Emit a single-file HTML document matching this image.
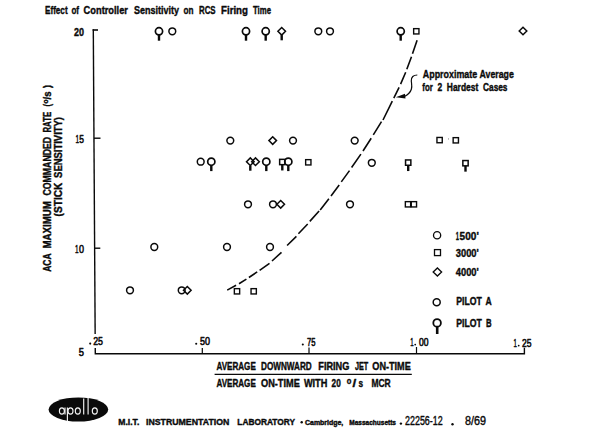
<!DOCTYPE html>
<html><head><meta charset="utf-8"><title>Effect of Controller Sensitivity on RCS Firing Time</title>
<style>
html,body{margin:0;padding:0;background:#fff;}
body{width:600px;height:436px;overflow:hidden;font-family:"Liberation Sans",sans-serif;}
svg{display:block;}
svg text{font-family:"Liberation Sans",sans-serif;fill:#0a0a0a;stroke:#0a0a0a;stroke-width:.4px;stroke-linejoin:round;}
</style></head><body>
<svg width="600" height="436" viewBox="0 0 600 436">
<rect x="0" y="0" width="600" height="436" fill="#fff"/>
<!-- axes -->
<g stroke="#0a0a0a" stroke-width="1.4" fill="none">
<path d="M98 30H92.6" stroke-width="1.6"/>
<path d="M93.3 29.3L95.15 334"/>
<path d="M95.25 348L95.3 353.8H524.4V347.8"/>
<path d="M94 138.2H100.5"/>
<path d="M94.7 248.2H100.3"/>
<path d="M202.3 348V353.8" stroke-width="1.2"/>
<path d="M309 347.5V353.8" stroke-width="1.2"/>
<path d="M416.5 347V353.8" stroke-width="1.2"/>
<path d="M214.6 374.3H411.8" stroke-width="1.3"/>
</g>
<!-- dashed curve -->
<path d="M227.2 290.1L236.1 285.3M239 283.7L246.4 279.1M248.9 277.5L257.2 271.9M259.6 270.3L269.5 263.3M272 261L281.5 252.3M287.1 245.5L296.4 236.4M298.4 233.7L307.7 224M309.8 221.4L319.1 211M320.2 210L328.9 198.8M331 196L339.2 185M341.3 181.9L349.5 170.6M351.6 167.5L360.9 154.1M363 151L371.2 138.2M373.3 134.9L381.5 121.7M383 120L392.3 101.2M393.8 98.1L399.1 87.4M400.6 84.1L405.7 72.3M406.8 69.2L411.5 56.8M412.5 53.7L417.1 40.3" stroke="#0a0a0a" stroke-width="1.6" fill="none" />
<!-- annotation arrow -->
<path d="M417.3 75C413.5 75,411 77,411.3 81S414 91,405 96.3" stroke="#0a0a0a" stroke-width="1.2" fill="none"/>
<path d="M395.8 97.3L405 93.8L405.5 98.6Z" fill="#0a0a0a"/>
<!-- markers -->
<g stroke="#0a0a0a" stroke-width="1.5" fill="none">
<circle cx="172.3" cy="31.3" r="3.4"/>
<circle cx="318.3" cy="31.3" r="3.4"/>
<circle cx="330" cy="31.3" r="3.4"/>
<circle cx="230.3" cy="140.6" r="3.4"/>
<circle cx="293" cy="140.6" r="3.4"/>
<circle cx="354.7" cy="140.6" r="3.4"/>
<circle cx="200.7" cy="161.7" r="3.4"/>
<circle cx="371.8" cy="162.8" r="3.4"/>
<circle cx="248" cy="204.3" r="3.4"/>
<circle cx="273" cy="204.3" r="3.4"/>
<circle cx="350" cy="204.3" r="3.4"/>
<circle cx="154.3" cy="247" r="3.4"/>
<circle cx="227" cy="247" r="3.4"/>
<circle cx="270" cy="247" r="3.4"/>
<circle cx="130" cy="290.3" r="3.4"/>
<circle cx="181.7" cy="290.3" r="3.4"/>
<circle cx="159" cy="31.3" r="3.6" stroke-width="1.7"/><line x1="159" y1="34.9" x2="159" y2="40.699999999999996" stroke-width="2.4"/>
<circle cx="246" cy="31.3" r="3.6" stroke-width="1.7"/><line x1="246" y1="34.9" x2="246" y2="40.699999999999996" stroke-width="2.4"/>
<circle cx="265.7" cy="31.3" r="3.6" stroke-width="1.7"/><line x1="265.7" y1="34.9" x2="265.7" y2="40.699999999999996" stroke-width="2.4"/>
<circle cx="400.7" cy="31.3" r="3.6" stroke-width="1.7"/><line x1="400.7" y1="34.9" x2="400.7" y2="40.699999999999996" stroke-width="2.4"/>
<circle cx="211.3" cy="161.7" r="3.6" stroke-width="1.7"/><line x1="211.3" y1="165.29999999999998" x2="211.3" y2="171.1" stroke-width="2.4"/>
<circle cx="266.3" cy="161.7" r="3.6" stroke-width="1.7"/><line x1="266.3" y1="165.29999999999998" x2="266.3" y2="171.1" stroke-width="2.4"/>
<circle cx="288.3" cy="161.7" r="3.6" stroke-width="1.7"/><line x1="288.3" y1="165.29999999999998" x2="288.3" y2="171.1" stroke-width="2.4"/>
<rect x="413.65000000000003" y="28.650000000000002" width="5.3" height="5.3" stroke-width="1.4"/>
<rect x="436.95000000000005" y="137.45" width="5.3" height="5.3" stroke-width="1.4"/>
<rect x="453.15000000000003" y="137.65" width="5.3" height="5.3" stroke-width="1.4"/>
<rect x="305.65000000000003" y="159.65" width="5.3" height="5.3" stroke-width="1.4"/>
<rect x="405.35" y="201.65" width="5.3" height="5.3" stroke-width="1.4"/>
<rect x="411.25" y="201.65" width="5.3" height="5.3" stroke-width="1.4"/>
<rect x="234.35" y="288.65000000000003" width="5.3" height="5.3" stroke-width="1.4"/>
<rect x="251.04999999999998" y="288.65000000000003" width="5.3" height="5.3" stroke-width="1.4"/>
<rect x="279.65000000000003" y="159.35" width="5.3" height="5.3"/><line x1="282.3" y1="164.65" x2="282.3" y2="170.45000000000002" stroke-width="2.4"/>
<rect x="405.55" y="159.95" width="5.3" height="5.3"/><line x1="408.2" y1="165.25" x2="408.2" y2="171.05" stroke-width="2.4"/>
<rect x="462.85" y="160.54999999999998" width="5.3" height="5.3"/><line x1="465.5" y1="165.85" x2="465.5" y2="171.65" stroke-width="2.4"/>
<path d="M519.2 31L523 27.2L526.8 31L523 34.8Z"/>
<path d="M268.9 140.6L272.7 136.79999999999998L276.5 140.6L272.7 144.4Z"/>
<path d="M251.7 161.7L255.5 157.89999999999998L259.3 161.7L255.5 165.5Z"/>
<path d="M276.9 204.3L280.7 200.5L284.5 204.3L280.7 208.10000000000002Z"/>
<path d="M183.5 290.3L187.3 286.5L191.10000000000002 290.3L187.3 294.1Z"/>
<path d="M277.9 31.3L281.7 27.5L285.5 31.3L281.7 35.1Z"/><line x1="281.7" y1="35.1" x2="281.7" y2="40.300000000000004" stroke-width="2.4"/>
<path d="M246.5 161.7L250.3 157.89999999999998L254.10000000000002 161.7L250.3 165.5Z"/><line x1="250.3" y1="165.5" x2="250.3" y2="170.7" stroke-width="2.4"/>
<circle cx="437.1" cy="235.2" r="3.6" stroke-width="1.3"/>
<rect x="434.5" y="249.6" width="6" height="6" stroke-width="1.3"/>
<path d="M433.2 272L437.4 267.9L441.6 272L437.4 276.1Z" stroke-width="1.35"/>
<circle cx="436.7" cy="302.3" r="3.5" stroke-width="1.5"/>
<circle cx="437.1" cy="322.9" r="3.8" stroke-width="1.8"/><line x1="437.2" y1="326.7" x2="437.2" y2="334" stroke-width="2.6"/>
</g>
<circle cx="448.5" cy="138.9" r="0.55" fill="#888"/>
<!-- text -->
<text x="45.00" y="13.60" textLength="22.60" lengthAdjust="spacingAndGlyphs" font-size="11.5" font-weight="bold" >Effect</text><text x="71.40" y="13.60" textLength="7.60" lengthAdjust="spacingAndGlyphs" font-size="11.5" font-weight="bold" >of</text><text x="83.60" y="13.60" textLength="44.40" lengthAdjust="spacingAndGlyphs" font-size="11.5" font-weight="bold" >Controller</text><text x="134.00" y="13.60" textLength="45.00" lengthAdjust="spacingAndGlyphs" font-size="11.5" font-weight="bold" >Sensitivity</text><text x="183.60" y="13.60" textLength="10.00" lengthAdjust="spacingAndGlyphs" font-size="11.5" font-weight="bold" >on</text><text x="199.00" y="13.60" textLength="16.60" lengthAdjust="spacingAndGlyphs" font-size="11.5" font-weight="bold" >RCS</text><text x="221.00" y="13.60" textLength="27.00" lengthAdjust="spacingAndGlyphs" font-size="11.5" font-weight="bold" >Firing</text><text x="253.00" y="13.60" textLength="18.00" lengthAdjust="spacingAndGlyphs" font-size="11.5" font-weight="bold" >Time</text>
<text x="74.00" y="35.50" textLength="10.00" lengthAdjust="spacingAndGlyphs" font-size="11.8" font-weight="bold" >20</text>
<text x="75.50" y="143.00" textLength="3.60" lengthAdjust="spacingAndGlyphs" font-size="11.8" font-weight="normal" font-family="Liberation Serif" style="stroke-width:.5px">1</text><text x="79.30" y="143.00" textLength="4.70" lengthAdjust="spacingAndGlyphs" font-size="11.8" font-weight="normal" style="stroke-width:.6px">5</text>
<text x="75.00" y="252.50" textLength="3.60" lengthAdjust="spacingAndGlyphs" font-size="11.8" font-weight="normal" font-family="Liberation Serif" style="stroke-width:.5px">1</text><text x="79.00" y="252.50" textLength="5.00" lengthAdjust="spacingAndGlyphs" font-size="11.8" font-weight="normal" style="stroke-width:.6px">0</text>
<text x="78.80" y="356.40" textLength="5.20" lengthAdjust="spacingAndGlyphs" font-size="11.2" font-weight="normal" style="stroke-width:.6px">5</text>
<text x="93.20" y="344.60" textLength="9.80" lengthAdjust="spacingAndGlyphs" font-size="11.8" font-weight="normal" style="stroke-width:.6px">25</text>
<text x="200.00" y="344.80" textLength="10.00" lengthAdjust="spacingAndGlyphs" font-size="11.6" font-weight="normal" style="stroke-width:.6px">50</text>
<text x="307.00" y="345.50" textLength="8.50" lengthAdjust="spacingAndGlyphs" font-size="11.6" font-weight="normal" style="stroke-width:.6px">75</text>
<text x="410.20" y="345.50" textLength="3.40" lengthAdjust="spacingAndGlyphs" font-size="11.4" font-weight="normal" font-family="Liberation Serif" style="stroke-width:.5px">1</text><text x="419.00" y="345.50" textLength="9.50" lengthAdjust="spacingAndGlyphs" font-size="11.2" font-weight="normal" style="stroke-width:.6px">00</text>
<text x="513.50" y="346.50" textLength="3.40" lengthAdjust="spacingAndGlyphs" font-size="11.4" font-weight="normal" font-family="Liberation Serif" style="stroke-width:.5px">1</text><text x="522.00" y="346.50" textLength="9.50" lengthAdjust="spacingAndGlyphs" font-size="11.8" font-weight="normal" style="stroke-width:.6px">25</text>
<text x="216.40" y="370.00" textLength="39.40" lengthAdjust="spacingAndGlyphs" font-size="11.3" font-weight="bold" >AVERAGE</text><text x="261.00" y="370.00" textLength="50.70" lengthAdjust="spacingAndGlyphs" font-size="11.3" font-weight="bold" >DOWNWARD</text><text x="318.30" y="370.00" textLength="31.10" lengthAdjust="spacingAndGlyphs" font-size="11.3" font-weight="bold" >FIRING</text><text x="355.00" y="370.00" textLength="13.30" lengthAdjust="spacingAndGlyphs" font-size="11.3" font-weight="bold" >JET</text><text x="372.30" y="370.00" textLength="38.50" lengthAdjust="spacingAndGlyphs" font-size="11.3" font-weight="bold" >ON-TIME</text>
<text x="216.40" y="386.60" textLength="39.40" lengthAdjust="spacingAndGlyphs" font-size="11.3" font-weight="bold" >AVERAGE</text><text x="261.00" y="386.60" textLength="38.80" lengthAdjust="spacingAndGlyphs" font-size="11.3" font-weight="bold" >ON-TIME</text><text x="303.90" y="386.60" textLength="23.50" lengthAdjust="spacingAndGlyphs" font-size="11.3" font-weight="bold" >WITH</text><text x="331.60" y="386.60" textLength="9.20" lengthAdjust="spacingAndGlyphs" font-size="11.3" font-weight="bold" >20</text><text x="352.50" y="386.60" textLength="3.70" lengthAdjust="spacingAndGlyphs" font-size="11.3" font-weight="bold" >/</text><text x="358.60" y="386.60" textLength="4.60" lengthAdjust="spacingAndGlyphs" font-size="11.3" font-weight="bold" >s</text><text x="371.40" y="386.60" textLength="19.30" lengthAdjust="spacingAndGlyphs" font-size="11.3" font-weight="bold" >MCR</text>
<text x="346.70" y="383.60" textLength="4.60" lengthAdjust="spacingAndGlyphs" font-size="8.5" font-weight="bold" >o</text>
<text x="422.80" y="78.30" textLength="54.40" lengthAdjust="spacingAndGlyphs" font-size="11.8" font-weight="bold" >Approximate</text><text x="479.50" y="78.30" textLength="34.30" lengthAdjust="spacingAndGlyphs" font-size="11.8" font-weight="bold" >Average</text>
<text x="422.30" y="90.50" textLength="10.50" lengthAdjust="spacingAndGlyphs" font-size="11.6" font-weight="bold" >for</text><text x="437.50" y="90.50" textLength="4.70" lengthAdjust="spacingAndGlyphs" font-size="11.6" font-weight="bold" >2</text><text x="446.80" y="90.50" textLength="31.50" lengthAdjust="spacingAndGlyphs" font-size="11.6" font-weight="bold" >Hardest</text><text x="483.00" y="90.50" textLength="24.50" lengthAdjust="spacingAndGlyphs" font-size="11.6" font-weight="bold" >Cases</text>
<text x="455.80" y="239.50" textLength="3.20" lengthAdjust="spacingAndGlyphs" font-size="11.6" font-weight="bold" font-family="Liberation Serif">1</text><text x="459.60" y="239.50" textLength="19.20" lengthAdjust="spacingAndGlyphs" font-size="11.6" font-weight="bold" >500'</text>
<text x="455.80" y="257.20" textLength="23.00" lengthAdjust="spacingAndGlyphs" font-size="11.6" font-weight="bold" >3000'</text>
<text x="455.80" y="276.00" textLength="23.00" lengthAdjust="spacingAndGlyphs" font-size="11.6" font-weight="bold" >4000'</text>
<text x="456.20" y="305.30" textLength="25.60" lengthAdjust="spacingAndGlyphs" font-size="11.2" font-weight="bold" >PILOT</text><text x="485.60" y="305.30" textLength="6.20" lengthAdjust="spacingAndGlyphs" font-size="11.2" font-weight="bold" >A</text>
<text x="456.20" y="327.10" textLength="25.60" lengthAdjust="spacingAndGlyphs" font-size="11.2" font-weight="bold" >PILOT</text><text x="486.00" y="327.10" textLength="5.60" lengthAdjust="spacingAndGlyphs" font-size="11.2" font-weight="bold" >B</text>
<text x="118.30" y="424.60" textLength="21.00" lengthAdjust="spacingAndGlyphs" font-size="9.3" font-weight="bold" >M.I.T.</text><text x="146.00" y="424.60" textLength="83.30" lengthAdjust="spacingAndGlyphs" font-size="9.3" font-weight="bold" >INSTRUMENTATION</text><text x="237.30" y="424.60" textLength="57.70" lengthAdjust="spacingAndGlyphs" font-size="9.3" font-weight="bold" >LABORATORY</text>
<text x="305.00" y="424.60" textLength="38.30" lengthAdjust="spacingAndGlyphs" font-size="6.8" font-weight="bold" >Cambridge,</text><text x="349.30" y="424.60" textLength="46.70" lengthAdjust="spacingAndGlyphs" font-size="6.8" font-weight="bold" >Massachusetts</text>
<text x="405.00" y="425.20" textLength="37.70" lengthAdjust="spacingAndGlyphs" font-size="12" font-weight="normal" >22256-12</text><text x="465.00" y="425.20" textLength="21.00" lengthAdjust="spacingAndGlyphs" font-size="12" font-weight="normal" >8/69</text>
<g transform="translate(51 271.8) rotate(-90)"><text x="0.00" y="0.00" textLength="18.50" lengthAdjust="spacingAndGlyphs" font-size="11" font-weight="bold" >ACA</text></g><g transform="translate(51 248.5) rotate(-90)"><text x="0.00" y="0.00" textLength="47.30" lengthAdjust="spacingAndGlyphs" font-size="11" font-weight="bold" >MAXIMUM</text></g><g transform="translate(51 195.6) rotate(-90)"><text x="0.00" y="0.00" textLength="58.80" lengthAdjust="spacingAndGlyphs" font-size="11" font-weight="bold" >COMMANDED</text></g><g transform="translate(51 132.5) rotate(-90)"><text x="0.00" y="0.00" textLength="20.60" lengthAdjust="spacingAndGlyphs" font-size="11" font-weight="bold" >RATE</text></g>
<g transform="translate(51 106.6) rotate(-90)"><text x="0.00" y="0.00" textLength="2.60" lengthAdjust="spacingAndGlyphs" font-size="11" font-weight="bold" >(</text></g><g transform="translate(51 99.5) rotate(-90)"><text x="0.00" y="0.00" textLength="8.00" lengthAdjust="spacingAndGlyphs" font-size="11" font-weight="bold" >/s</text></g><g transform="translate(51 88) rotate(-90)"><text x="0.00" y="0.00" textLength="3.00" lengthAdjust="spacingAndGlyphs" font-size="11" font-weight="bold" >)</text></g>
<g transform="translate(47.5 103.5) rotate(-90)"><text x="0.00" y="0.00" textLength="4.00" lengthAdjust="spacingAndGlyphs" font-size="8" font-weight="bold" >o</text></g>
<g transform="translate(62 216.4) rotate(-90)"><text x="0.00" y="0.00" textLength="33.70" lengthAdjust="spacingAndGlyphs" font-size="10.3" font-weight="bold" >(STICK</text></g><g transform="translate(62 177.9) rotate(-90)"><text x="0.00" y="0.00" textLength="60.90" lengthAdjust="spacingAndGlyphs" font-size="10.3" font-weight="bold" >SENSITIVITY)</text></g>
<!-- apollo logo -->
<ellipse cx="78.4" cy="409.5" rx="29.8" ry="12.05" fill="#0a0a0a"/>
<g stroke="#f4f4f4" stroke-width="1.15" fill="none">
<ellipse cx="61.9" cy="411" rx="2.5" ry="3.1"/><path d="M65 407.6V414.5"/>
<path d="M67.4 407.6V421.3"/><ellipse cx="70.5" cy="411" rx="2.5" ry="3.1"/>
<ellipse cx="77.8" cy="411" rx="2.5" ry="3.1"/>
<path d="M83.7 398.6V414.5"/><path d="M88.1 398V414.5"/>
<ellipse cx="94.8" cy="411" rx="2.5" ry="3.1"/>
</g>
<g fill="#0a0a0a"><circle cx="90.2" cy="343.6" r="1.05"/><circle cx="196.2" cy="343.8" r="1.05"/><circle cx="302.8" cy="344.5" r="1.05"/><circle cx="415.2" cy="344.6" r="0.9"/><circle cx="518.7" cy="345.6" r="0.9"/></g>
<circle cx="301.7" cy="422.3" r="1.2" fill="#0a0a0a"/>
<circle cx="400.9" cy="423.6" r="1.2" fill="#0a0a0a"/>
<circle cx="452.5" cy="424.3" r="1.2" fill="#0a0a0a"/>
</svg>
</body></html>
